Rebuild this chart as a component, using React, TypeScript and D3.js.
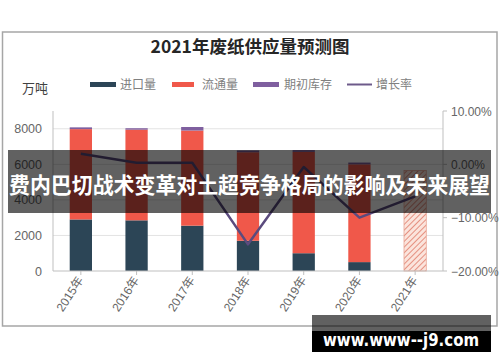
import React from "react";
import * as d3 from "d3";

const categories = ["2015年", "2016年", "2017年", "2018年", "2019年", "2020年", "2021年"];
const importVol = [2900, 2850, 2550, 1700, 1000, 500, 0];
const circulation = [5080, 5100, 5350, 4980, 5700, 5500, 0];
const openingStock = [100, 80, 200, 100, 100, 100, 0];
const forecast = [0, 0, 0, 0, 0, 0, 5650];
const growthRate = [2.0, 0.3, 0.3, -15.0, -0.5, -10.0, -6.0];
const leftTicks = [0, 2000, 4000, 6000, 8000];
const rightTicks = [10, 0, -10, -20];
const legendItems = ["进口量", "流通量", "期初库存", "增长率"];

const W = 500;
const H = 362;
const plotL = 53;
const plotR = 443;
const plotT = 111;
const plotB = 271;

const C_IMPORT = "#2c4556";
const C_CIRC = "#f0584a";
const C_STOCK = "#7f5f9f";
const C_LINE = "#5b4b7e";
const CJK = "'Noto Sans CJK SC', 'Noto Sans', sans-serif";
const LAT = "'Liberation Sans', Arial, sans-serif";

export default function App() {
  const x = d3.scaleBand<string>().domain(categories).range([plotL, plotR]).paddingInner(0.6).paddingOuter(0.3);
  const y = d3.scaleLinear().domain([0, 9000]).range([plotB, plotT]);
  const yr = d3.scaleLinear().domain([-20, 10]).range([plotB, plotT]);
  const bw = x.bandwidth();
  const cx = (c: string) => (x(c) as number) + bw / 2;

  const stack = d3.stack<number>().keys(["imp", "circ", "stock"]).value((i, k) =>
    k === "imp" ? importVol[i] : k === "circ" ? circulation[i] : openingStock[i]
  )(categories.map((_, i) => i));
  const colors = [C_IMPORT, C_CIRC, C_STOCK];

  const line = d3.line<number>().x((_, i) => cx(categories[i])).y((v) => yr(v)).curve(d3.curveLinear);

  const legendX = [90, 172, 253, 347];
  const legendTX = [120, 202, 284, 376];

  return (
    <div>
      <style>{`body{margin:0}`}</style>
      <svg width={W} height={H} style={{ display: "block", background: "#fff" }}>
        <defs>
          <pattern id="hatch" patternUnits="userSpaceOnUse" width="4" height="4" patternTransform="rotate(45)">
            <rect width="4" height="4" fill="#fbe4dc" />
            <line x1="0" y1="0" x2="0" y2="4" stroke="#e07a68" strokeWidth="1.6" />
          </pattern>
        </defs>
        <rect x={2.5} y={32} width={494.5} height={294} fill="#fff" stroke="#a6a6a6" strokeWidth={1.5} />
        <text x={250} y={53} textAnchor="middle" fontFamily={CJK} fontWeight={700} fontSize={17.5} fill="#262626">
          2021年废纸供应量预测图
        </text>
        <text x={22} y={93} fontFamily={CJK} fontSize={13} fill="#404040">万吨</text>
        {legendItems.map((t, i) =>
          <g key={t}>
            {i < 3 ? (
              <rect x={legendX[i]} y={82} width={i === 1 ? 22 : 26} height={5} fill={colors[i]} />
            ) : (
              <line x1={legendX[i]} x2={legendX[i] + 25} y1={84.5} y2={84.5} stroke="#6d5a8a" strokeWidth={2} />
            )}
            <text x={legendTX[i]} y={89} fontFamily={CJK} fontSize={12} fill="#808080">{t}</text>
          </g>
        )}
        {leftTicks.filter((v) => v > 0).map((v) => (
          <line key={v} x1={plotL} x2={plotR} y1={y(v)} y2={y(v)} stroke="#e3e3e3" strokeWidth={1} />
        ))}
        {leftTicks.map((v) => (
          <text key={v} x={42} y={y(v) + 4.5} textAnchor="end" fontFamily={LAT} fontSize={12.5} fill="#666">{v}</text>
        ))}
        {stack.map((layer, li) =>
          layer.map((d, i) => (
            d[1] - d[0] > 0 ? (
              <rect key={li + "-" + i} x={x(categories[i])} y={y(d[1])} width={bw} height={y(d[0]) - y(d[1])} fill={colors[li]} />
            ) : null
          ))
        )}
        {forecast.map((v, i) => v > 0 ? (
          <rect key={"f" + i} x={x(categories[i])} y={y(v)} width={bw} height={y(0) - y(v)} fill="url(#hatch)" stroke="#e9a797" strokeWidth={0.8} />
        ) : null)}
        <line x1={plotL} x2={plotL} y1={plotT} y2={plotB} stroke="#bfbfbf" />
        <line x1={plotR} x2={plotR} y1={plotT} y2={plotB} stroke="#bfbfbf" />
        <line x1={plotL} x2={plotR} y1={plotB} y2={plotB} stroke="#bfbfbf" />
        {categories.map((c) => (
          <line key={c} x1={cx(c)} x2={cx(c)} y1={plotB} y2={plotB + 4} stroke="#bfbfbf" />
        ))}
        {rightTicks.map((v) => (
          <g key={v}>
            <line x1={plotR} x2={plotR + 4} y1={yr(v)} y2={yr(v)} stroke="#bfbfbf" />
            <text x={451} y={yr(v) + 4.5} fontFamily={LAT} fontSize={12} fill="#666">{d3.format(".2f")(v) + "%"}</text>
          </g>
        ))}
        <path d={line(growthRate) || ""} fill="none" stroke={C_LINE} strokeWidth={2.5} strokeLinejoin="round" />
        {categories.map((c) => (
          <text key={c} transform={`translate(${cx(c) + 3},${plotB + 9}) rotate(-57)`} textAnchor="end" fontFamily={LAT} fontSize={12} fill="#666">
            {c.replace("年", "")}<tspan fontFamily={CJK}>年</tspan>
          </text>
        ))}
        <rect x={8} y={150} width={483} height={63} fill="rgba(0,0,0,0.62)" />
        <text x={249.5} y={193} textAnchor="middle" fontFamily={CJK} fontWeight={700} fontSize={22} fill="#fff" textLength={481} lengthAdjust="spacingAndGlyphs">
          费内巴切战术变革对土超竞争格局的影响及未来展望
        </text>
        <rect x={312} y={315} width={179} height={16} fill="rgba(0,0,0,0.62)" />
        <rect x={312} y={331} width={179} height={21} fill="#000" />
        <text x={401} y={346} textAnchor="middle" fontFamily="'DejaVu Sans', sans-serif" fontWeight={700} fontSize={17} fill="#fff" textLength={156} lengthAdjust="spacingAndGlyphs">
          www.www--j9.com
        </text>
      </svg>
    </div>
  );
}
